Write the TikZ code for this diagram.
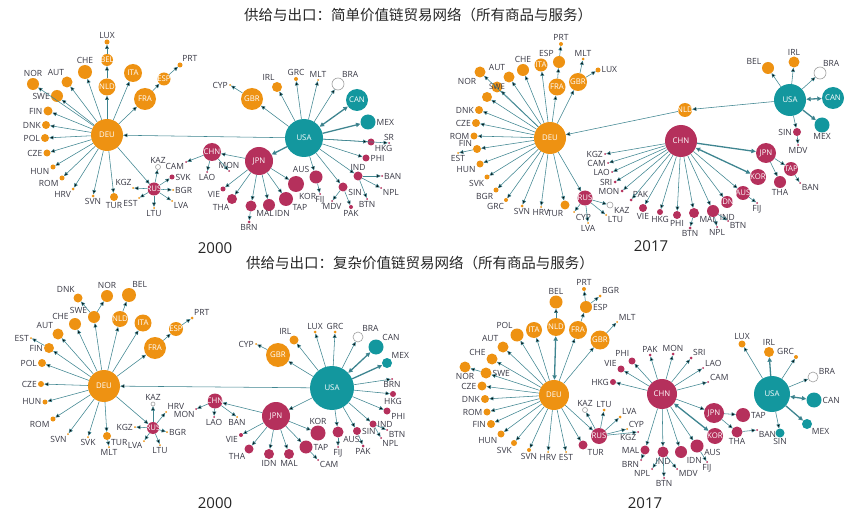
\documentclass[tikz,border=0pt]{standalone}
\usepackage{fontspec}
\setmainfont{Open Sans}
\newfontfamily\cjkfont{Noto Sans CJK SC}
\usetikzlibrary{arrows.meta}
\definecolor{corg}{HTML}{EE9212}
\definecolor{cmag}{HTML}{B5305C}
\definecolor{ctea}{HTML}{13979E}
\definecolor{cedge}{HTML}{3E8590}
\definecolor{clbl}{HTML}{3A3A46}
\newcommand{\hub}[1]{\makebox[0pt]{#1}}
\tikzset{
  cty/.style={circle, inner sep=0pt, text=white, font=\fontsize{7.8}{8}\selectfont},
  orgn/.style={cty, fill=corg, minimum size=#1},
  magn/.style={cty, fill=cmag, minimum size=#1},
  tealn/.style={cty, fill=ctea, minimum size=#1},
  hollow/.style={circle, inner sep=0pt, draw=gray!75, line width=0.6pt, fill=white, minimum size=#1},
  every label/.style={font=\fontsize{8.5}{9}\selectfont, text=clbl, inner sep=0.8pt},
  ln/.style={draw=cedge, line width=0.55pt, -{Triangle[length=4.2pt,width=3.8pt]}},
  lnt/.style={draw=cedge, line width=1.3pt, -{Triangle[length=4.5pt,width=4.2pt]}},
  lnd/.style={draw=cedge, line width=1.3pt, {Triangle[length=4.5pt,width=4.2pt]}-{Triangle[length=4.5pt,width=4.2pt]}},
  yr/.style={font=\fontsize{15}{16}\selectfont, text=black!85},
  ttl/.style={font=\cjkfont\fontsize{14.5}{15}\selectfont, text=black!85}
}

\begin{document}
\begin{tikzpicture}[x=1pt, y=-1pt]
  \fill[white] (0,0) rectangle (855,516);
  \useasboundingbox (0,0) rectangle (855,516);
  \node[ttl] (title1) at (418,15) {供给与出口：简单价值链贸易网络（所有商品与服务）};
  \node[ttl] (title2) at (420,263) {供给与出口：复杂价值链贸易网络（所有商品与服务）};

  % simple, 2000: Europe
  \node[orgn=32] (aDEU) at (107,135) {\hub{DEU}};
  \node[orgn=5, label=above:LUX] (aLUX) at (107,42) {};
  \node[orgn=12] (aBEL) at (107,60) {\hub{BEL}};
  \node[orgn=17] (aNLD) at (107,87) {\hub{NLD}};
  \node[orgn=18] (aITA) at (133,73) {\hub{ITA}};
  \node[orgn=13] (aESP) at (164,79) {\hub{ESP}};
  \node[orgn=5, label=60:PRT] (aPRT) at (180,65) {};
  \node[orgn=22] (aFRA) at (145,99) {\hub{FRA}};
  \node[orgn=14, label=above:CHE] (aCHE) at (85,72) {};
  \node[orgn=11, label=110:AUT] (aAUT) at (67,82) {};
  \node[orgn=12, label=above:NOR] (aNOR) at (33,84) {};
  \node[orgn=12, label=left:SWE] (aSWE) at (57,96) {};
  \node[orgn=9, label=left:FIN] (aFIN) at (48,111) {};
  \node[orgn=8, label=left:DNK] (aDNK) at (46,125) {};
  \node[orgn=8, label=left:POL] (aPOL) at (45,138) {};
  \node[orgn=7, label=left:CZE] (aCZE) at (47,153) {};
  \node[orgn=5, label=190:HUN] (aHUN) at (53,167) {};
  \node[orgn=5, label=200:ROM] (aROM) at (62,178) {};
  \node[orgn=3, label=230:HRV] (aHRV) at (73,189) {};
  \node[orgn=3, label=below:SVN] (aSVN) at (93,196) {};
  \node[orgn=8, label=below:TUR] (aTUR) at (114,197) {};
  \node[magn=13] (aRUS) at (154,189) {\hub{RUS}};
  \node[hollow=5, label=above:KAZ] (aKAZ) at (158,167) {};
  \node[orgn=2, label=110:KGZ] (aKGZ) at (133,188) {};
  \node[magn=2, label=210:CAM] (aCAM) at (186,162) {};
  \node[magn=5, label=right:SVK] (aSVK) at (172,177) {};
  \node[orgn=2, label=right:BGR] (aBGR) at (173,190) {};
  \node[orgn=2, label=-45:LVA] (aLVA) at (172,201) {};
  \node[orgn=2, label=below:LTU] (aLTU) at (154,208) {};
  \node[orgn=2, label=250:EST] (aEST) at (139,198) {};
  % simple, 2000: Americas and Asia
  \node[tealn=38] (aUSA) at (304,138) {\hub{USA}};
  \node[orgn=22] (aGBR) at (252,99) {\hub{GBR}};
  \node[orgn=2, label=left:CYP] (aCYP) at (230,85) {};
  \node[orgn=10, label=105:IRL] (aIRL) at (277,87) {};
  \node[orgn=4, label=above:GRC] (aGRC) at (296,79) {};
  \node[orgn=2, label=above:MLT] (aMLT) at (318,80) {};
  \node[hollow=12, label=60:BRA] (aBRA) at (338,84) {};
  \node[tealn=22] (aCAN) at (357,100) {\hub{CAN}};
  \node[tealn=15, label=right:MEX] (aMEX) at (368,122) {};
  \node[magn=2, label=above:SR] (aSRI) at (389,143) {};
  \node[magn=7, label=-40:HKG] (aHKG) at (371,142) {};
  \node[magn=7, label=right:PHI] (aPHI) at (366,158) {};
  \node[magn=9, label=above:IND] (aIND) at (358,176) {};
  \node[magn=2, label=right:BAN] (aBAN) at (382,176) {};
  \node[magn=2, label=-40:NPL] (aNPL) at (381,188) {};
  \node[magn=2, label=below:BTN] (aBTN) at (367,199) {};
  \node[magn=9, label=-20:SIN] (aSIN) at (343,187) {};
  \node[magn=2, label=below:MDV] (aMDV) at (332,201) {};
  \node[magn=4, label=below:PAK] (aPAK) at (351,207) {};
  \node[magn=13, label=150:AUS] (aAUS) at (316,177) {};
  \node[magn=2, label=below:FIJ] (aFIJ) at (320,194) {};
  \node[magn=16, label=-75:KOR] (aKOR) at (296,184) {};
  \node[magn=14, label=-40:TAP] (aTAP) at (286,199) {};
  \node[magn=28] (aJPN) at (259,161) {\hub{JPN}};
  \node[magn=12, label=-40:IDN] (aIDN) at (269,205) {};
  \node[magn=11, label=-40:MAL] (aMAL) at (251,206) {};
  \node[magn=3, label=below:BRN] (aBRN) at (249,222) {};
  \node[magn=10, label=250:THA] (aTHA) at (232,199) {};
  \node[magn=5, label=225:VIE] (aVIE) at (223,189) {};
  \node[magn=18] (aCHN) at (212,152) {\hub{CHN}};
  \node[magn=2, label=above:MON] (aMON) at (229,171) {};
  \node[magn=2, label=below:LAO] (aLAO) at (207,172) {};
  \node[yr] (ayear) at (215,248) {2000};
  % links
  \draw[ln] (aDEU) edge (aNLD) edge (aITA) edge (aFRA) edge (aCHE) edge (aAUT) edge (aNOR)
    edge (aSWE) edge (aFIN) edge (aDNK) edge (aPOL) edge (aCZE) edge (aHUN) edge (aROM)
    edge (aHRV) edge (aSVN) edge (aTUR) edge (aRUS);
  \draw[ln] (aNLD) edge (aBEL) (aBEL) edge (aLUX) (aFRA) edge (aESP) (aESP) edge (aPRT);
  \draw[ln] (aRUS) edge (aKAZ) edge (aKGZ) edge (aEST) edge (aLTU) edge (aLVA) edge (aBGR) edge (aSVK);
  \draw[ln] (aUSA) edge (aDEU) edge (aGBR) edge (aIRL) edge (aGRC) edge (aMLT) edge (aBRA)
    edge (aSRI) edge (aHKG) edge (aPHI) edge (aIND) edge (aSIN) edge (aAUS);
  \draw[lnt] (aUSA) edge (aMEX) edge (aJPN);
  \draw[lnd] (aUSA) edge (aCAN);
  \draw[ln] (aGBR) edge (aCYP) (aIND) edge (aBAN) edge (aNPL) edge (aBTN)
    (aSIN) edge (aMDV) edge (aPAK) (aAUS) edge (aFIJ);
  \draw[ln] (aJPN) edge (aCHN) edge (aVIE) edge (aTHA) edge (aMAL) edge (aIDN) edge (aTAP) edge (aKOR)
    (aMAL) edge (aBRN);
  \draw[ln] (aCHN) edge (aCAM) edge (aLAO) edge (aMON);

  % simple, 2017: Europe
  \node[orgn=32] (bDEU) at (550,138) {\hub{DEU}};
  \node[orgn=4, label=above:PRT] (bPRT) at (561,44) {};
  \node[orgn=12, label=135:ESP] (bESP) at (559,62) {};
  \node[orgn=13] (bITA) at (541,65) {\hub{ITA}};
  \node[orgn=17] (bFRA) at (557,87) {\hub{FRA}};
  \node[orgn=18] (bGBR) at (578,82) {\hub{GBR}};
  \node[orgn=3, label=above:MLT] (bMLT) at (583,59) {};
  \node[orgn=5, label=right:LUX] (bLUX) at (598,70) {};
  \node[orgn=12, label=above:CHE] (bCHE) at (523,70) {};
  \node[orgn=11, label=120:AUT] (bAUT) at (509,77) {};
  \node[orgn=11, label=240:NOR] (bNOR) at (480,72) {};
  \node[orgn=11, text=clbl] (bSWE) at (497,87) {\hub{SWE}};
  \node[orgn=10] (bunk) at (487,97) {};
  \node[orgn=8, label=left:DNK] (bDNK) at (479,110) {};
  \node[orgn=8, label=left:CZE] (bCZE) at (476,123) {};
  \node[orgn=7, label=left:ROM] (bROM) at (474,136) {};
  \node[orgn=8, label=165:FIN] (bFIN) at (477,149) {};
  \node[orgn=2, label=below:EST] (bEST) at (458,153) {};
  \node[orgn=7, label=200:HUN] (bHUN) at (480,164) {};
  \node[orgn=5, label=225:SVK] (bSVK) at (487,177) {};
  \node[orgn=5, label=225:BGR] (bBGR) at (496,190) {};
  \node[orgn=4, label=-120:GRC] (bGRC) at (506,200) {};
  \node[orgn=3, label=below:SVN] (bSVN) at (522,206) {};
  \node[orgn=2, label=below:HRV] (bHRV) at (541,207) {};
  \node[orgn=9, label=-100:TUR] (bTUR) at (565,205) {};
  \node[magn=15] (bRUS) at (585,198) {\hub{RUS}};
  \node[orgn=2, label=-45:CYP] (bCYP) at (574,212) {};
  \node[orgn=2, label=below:LVA] (bLVA) at (588,223) {};
  \node[orgn=2, label=-40:LTU] (bLTU) at (606,215) {};
  \node[hollow=6, label=-20:KAZ] (bKAZ) at (610,205) {};
  % simple, 2017: Asia
  \node[magn=32] (bCHN) at (681,141) {\hub{CHN}};
  \node[magn=2, label=left:KGZ] (bKGZ) at (605,154) {};
  \node[magn=2, label=left:CAM] (bCAM) at (608,163) {};
  \node[magn=2, label=left:LAO] (bLAO) at (612,172) {};
  \node[magn=3, label=left:SRI] (bSRI) at (615,182) {};
  \node[magn=3, label=left:MON] (bMON) at (622,191) {};
  \node[magn=3, label=60:PAK] (bPAK) at (631,200) {};
  \node[magn=8, label=below:VIE] (bVIE) at (643,208) {};
  \node[magn=6, label=below:HKG] (bHKG) at (660,212) {};
  \node[magn=8, label=below:PHI] (bPHI) at (677,215) {};
  \node[magn=10, label=-30:MAL] (bMAL) at (694,213) {};
  \node[magn=3, label=below:BTN] (bBTN) at (690,228) {};
  \node[magn=12, label=-20:IND] (bIND) at (713,211) {};
  \node[magn=2, label=below:NPL] (bNPL) at (717,227) {};
  \node[magn=2, label=-40:BTN] (bBTNb) at (728,221) {};
  \node[magn=12] (bIDN) at (727,202) {\hub{IDN}};
  \node[magn=14] (bAUS) at (743,193) {\hub{AUS}};
  \node[magn=2, label=below:FIJ] (bFIJ) at (757,203) {};
  \node[magn=16] (bKOR) at (758,177) {\hub{KOR}};
  \node[magn=20] (bJPN) at (766,153) {\hub{JPN}};
  \node[magn=14] (bTAP) at (791,169) {\hub{TAP}};
  \node[magn=12, label=below:THA] (bTHA) at (780,182) {};
  \node[magn=2, label=-40:BAN] (bBAN) at (800,183) {};
  % simple, 2017: Americas
  \node[tealn=32] (bUSA) at (790,100) {\hub{USA}};
  \node[orgn=14] (bNLD) at (685,110) {\hub{NLD}};
  \node[orgn=12, label=160:BEL] (bBEL) at (768,68) {};
  \node[orgn=11, label=above:IRL] (bIRL) at (794,62) {};
  \node[hollow=12, label=70:BRA] (bBRA) at (820,73) {};
  \node[tealn=22] (bCAN) at (833,98) {\hub{CAN}};
  \node[tealn=15, label=below:MEX] (bMEX) at (822,125) {};
  \node[magn=8, label=left:SIN] (bSIN) at (797,132) {};
  \node[magn=2, label=below:MDV] (bMDV) at (798,145) {};
  \node[yr] (byear) at (651,246) {2017};
  % links
  \draw[ln] (bDEU) edge (bITA) edge (bFRA) edge (bGBR) edge (bCHE) edge (bAUT) edge (bNOR)
    edge (bSWE) edge (bunk) edge (bDNK) edge (bCZE) edge (bROM) edge (bFIN) edge (bHUN)
    edge (bSVK) edge (bBGR) edge (bGRC) edge (bSVN) edge (bHRV) edge (bTUR) edge (bRUS);
  \draw[ln] (bFRA) edge (bESP) (bESP) edge (bPRT) (bGBR) edge (bMLT) edge (bLUX) (bFIN) edge (bEST);
  \draw[ln] (bRUS) edge (bCYP) edge (bLVA) edge (bLTU) edge (bKAZ);
  \draw[ln] (bCHN) edge (bKGZ) edge (bCAM) edge (bLAO) edge (bSRI) edge (bMON) edge (bPAK)
    edge (bVIE) edge (bHKG) edge (bPHI) edge (bMAL) edge (bIND) edge (bIDN) edge (bAUS);
  \draw[lnt] (bCHN) edge (bJPN);
  \draw[lnd] (bCHN) edge (bKOR);
  \draw[ln] (bMAL) edge (bBTN) (bIND) edge (bNPL) edge (bBTNb) (bAUS) edge (bFIJ)
    (bJPN) edge (bTAP) edge (bTHA) (bTAP) edge (bBAN);
  \draw[ln] (bUSA) edge (bNLD) edge (bBEL) edge (bIRL) edge (bBRA) edge (bSIN)
    (bNLD) edge (bDEU) (bSIN) edge (bMDV);
  \draw[lnt] (bUSA) edge (bMEX);
  \draw[lnd] (bUSA) edge (bCAN);

  % complex, 2000: Europe
  \node[orgn=32] (cDEU) at (104,386) {\hub{DEU}};
  \node[orgn=9, label=120:DNK] (cDNK) at (78,298) {};
  \node[orgn=12, label=above:NOR] (cNOR) at (107,296) {};
  \node[orgn=14, label=70:BEL] (cBEL) at (129,295) {};
  \node[orgn=12, label=160:SWE] (cSWE) at (94,317) {};
  \node[orgn=16] (cNLD) at (120,319) {\hub{NLD}};
  \node[orgn=17] (cITA) at (143,323) {\hub{ITA}};
  \node[orgn=14] (cESP) at (176,329) {\hub{ESP}};
  \node[orgn=3, label=45:PRT] (cPRT) at (192,318) {};
  \node[orgn=22] (cFRA) at (155,348) {\hub{FRA}};
  \node[orgn=12, label=150:CHE] (cCHE) at (75,324) {};
  \node[orgn=11, label=135:AUT] (cAUT) at (58,334) {};
  \node[orgn=2, label=left:EST] (cEST) at (31,338) {};
  \node[orgn=10, label=left:FIN] (cFIN) at (49,348) {};
  \node[orgn=8, label=left:POL] (cPOL) at (42,363) {};
  \node[orgn=6, label=left:CZE] (cCZE) at (41,384) {};
  \node[orgn=5, label=left:HUN] (cHUN) at (45,402) {};
  \node[orgn=5, label=200:ROM] (cROM) at (53,419) {};
  \node[orgn=2, label=250:SVN] (cSVN) at (68,434) {};
  \node[orgn=2, label=below:SVK] (cSVK) at (88,437) {};
  \node[orgn=8, label=-40:TUR] (cTUR) at (107,436) {};
  \node[orgn=2, label=below:MLT] (cMLT) at (109,447) {};
  \node[magn=12] (cRUS) at (153,428) {\hub{RUS}};
  \node[hollow=4, label=above:KAZ] (cKAZ) at (153,404) {};
  \node[orgn=2, label=60:HRV] (cHRV) at (166,412) {};
  \node[orgn=2, label=right:BGR] (cBGR) at (167,432) {};
  \node[orgn=2, label=below:LTU] (cLTU) at (160,445) {};
  \node[orgn=2, label=225:LVA] (cLVA) at (144,441) {};
  \node[orgn=2, label=left:KGZ] (cKGZ) at (135,427) {};
  % complex, 2000: Americas and Asia
  \node[tealn=44] (cUSA) at (332,388) {\hub{USA}};
  \node[orgn=24] (cGBR) at (278,355) {\hub{GBR}};
  \node[orgn=2, label=left:CYP] (cCYP) at (256,344) {};
  \node[orgn=9, label=110:IRL] (cIRL) at (294,340) {};
  \node[orgn=3, label=above:LUX] (cLUX) at (315,332) {};
  \node[orgn=3, label=above:GRC] (cGRC) at (335,332) {};
  \node[hollow=10, label=50:BRA] (cBRA) at (358,337) {};
  \node[tealn=15, label=45:CAN] (cCAN) at (376,347) {};
  \node[tealn=10, label=45:MEX] (cMEX) at (387,363) {};
  \node[magn=2, label=below:BRN] (cBRN) at (392,379) {};
  \node[magn=6, label=below:HKG] (cHKG) at (393,394) {};
  \node[magn=7, label=-20:PHI] (cPHI) at (387,411) {};
  \node[magn=7, label=right:IND] (cIND) at (373,424) {};
  \node[magn=2, label=-40:BTN] (cBTN) at (387,430) {};
  \node[magn=2, label=-70:NPL] (cNPL) at (381,438) {};
  \node[magn=8, label=right:SIN] (cSIN) at (357,431) {};
  \node[magn=3, label=below:PAK] (cPAK) at (363,446) {};
  \node[magn=11, label=-40:AUS] (cAUS) at (338,432) {};
  \node[magn=2, label=below:FIJ] (cFIJ) at (338,447) {};
  \node[magn=15, label=above:KOR] (cKOR) at (318,433) {};
  \node[magn=13, label=right:TAP] (cTAP) at (306,447) {};
  \node[magn=2, label=-40:CAM] (cCAM) at (318,460) {};
  \node[magn=28] (cJPN) at (276,416) {\hub{JPN}};
  \node[magn=10, label=below:MAL] (cMAL) at (289,454) {};
  \node[magn=10, label=below:IDN] (cIDN) at (269,454) {};
  \node[magn=9, label=235:THA] (cTHA) at (249,449) {};
  \node[magn=4, label=200:VIE] (cVIE) at (241,435) {};
  \node[magn=15] (cCHN) at (215,401) {\hub{CHN}};
  \node[magn=2, label=below:LAO] (cLAO) at (214,417) {};
  \node[orgn=2, label=below:BAN] (cBAN) at (237,417) {};
  \node[magn=2, label=250:MON] (cMON) at (196,409) {};
  \node[yr] (cyear) at (215,503) {2000};
  % links
  \draw[ln] (cDEU) edge (cSWE) edge (cNLD) edge (cITA) edge (cFRA) edge (cCHE) edge (cAUT)
    edge (cFIN) edge (cPOL) edge (cCZE) edge (cHUN) edge (cROM) edge (cSVN) edge (cSVK)
    edge (cTUR) edge (cRUS);
  \draw[ln] (cSWE) edge (cDNK) edge (cNOR) (cNLD) edge (cBEL) (cFRA) edge (cESP) (cESP) edge (cPRT)
    (cFIN) edge (cEST) (cTUR) edge (cMLT);
  \draw[ln] (cRUS) edge (cKAZ) edge (cHRV) edge (cBGR) edge (cLTU) edge (cLVA) edge (cKGZ);
  \draw[ln] (cUSA) edge (cDEU) edge (cGBR) edge (cIRL) edge (cLUX) edge (cGRC) edge (cBRA)
    edge (cBRN) edge (cHKG) edge (cPHI) edge (cIND) edge (cSIN) edge (cAUS) edge (cJPN);
  \draw[lnt] (cUSA) edge (cMEX);
  \draw[lnd] (cUSA) edge (cCAN);
  \draw[ln] (cGBR) edge (cCYP) (cIND) edge (cBTN) edge (cNPL) (cSIN) edge (cPAK) (cAUS) edge (cFIJ);
  \draw[ln] (cJPN) edge (cCHN) edge (cVIE) edge (cTHA) edge (cIDN) edge (cMAL) edge (cTAP) edge (cKOR)
    (cTAP) edge (cCAM);
  \draw[ln] (cCHN) edge (cLAO) edge (cBAN) edge (cMON);

  % complex, 2017: Europe
  \node[orgn=30] (dDEU) at (554,395) {\hub{DEU}};
  \node[orgn=13, label=above:BEL] (dBEL) at (556,302) {};
  \node[orgn=18] (dNLD) at (556,327) {\hub{NLD}};
  \node[orgn=4, label=above:PRT] (dPRT) at (584,289) {};
  \node[orgn=3, label=45:BGR] (dBGR) at (600,296) {};
  \node[orgn=12, label=right:ESP] (dESP) at (586,307) {};
  \node[orgn=18] (dFRA) at (578,330) {\hub{FRA}};
  \node[orgn=16] (dITA) at (534,330) {\hub{ITA}};
  \node[orgn=19] (dGBR) at (600,340) {\hub{GBR}};
  \node[orgn=2, label=45:MLT] (dMLT) at (617,322) {};
  \node[orgn=13, label=120:POL] (dPOL) at (517,335) {};
  \node[orgn=11, label=130:AUT] (dAUT) at (503,347) {};
  \node[orgn=11, label=160:CHE] (dCHE) at (492,359) {};
  \node[orgn=11, label=below:NOR] (dNOR) at (465,367) {};
  \node[orgn=11, label=right:SWE] (dSWE) at (486,373) {};
  \node[orgn=9, label=left:CZE] (dCZE) at (482,386) {};
  \node[orgn=8, label=left:DNK] (dDNK) at (485,399) {};
  \node[orgn=7, label=left:ROM] (dROM) at (487,412) {};
  \node[orgn=8, label=left:FIN] (dFIN) at (491,424) {};
  \node[orgn=7, label=220:HUN] (dHUN) at (501,434) {};
  \node[orgn=6, label=250:SVK] (dSVK) at (514,443) {};
  \node[orgn=4, label=below:SVN] (dSVN) at (529,450) {};
  \node[orgn=2, label=below:HRV] (dHRV) at (548,452) {};
  \node[orgn=2, label=below:EST] (dEST) at (566,452) {};
  \node[magn=9, label=-40:TUR] (dTUR) at (583,445) {};
  \node[magn=16] (dRUS) at (599,436) {\hub{RUS}};
  \node[hollow=5, label=above:KAZ] (dKAZ) at (585,410) {};
  \node[orgn=3, label=above:LTU] (dLTU) at (604,410) {};
  \node[orgn=3, label=45:LVA] (dLVA) at (620,417) {};
  \node[orgn=2, label=45:CYP] (dCYP) at (627,429) {};
  % complex, 2017: Asia
  \node[magn=30] (dCHN) at (662,394) {\hub{CHN}};
  \node[magn=2, label=225:KGZ] (dKGZ) at (638,432) {};
  \node[magn=9, label=left:MAL] (dMAL) at (645,450) {};
  \node[magn=2, label=225:BRN] (dBRN) at (641,460) {};
  \node[magn=11, label=below:IND] (dIND) at (663,452) {};
  \node[magn=2, label=225:NPL] (dNPL) at (652,469) {};
  \node[magn=2, label=below:BTN] (dBTN) at (664,478) {};
  \node[magn=2, label=-45:MDV] (dMDV) at (677,469) {};
  \node[magn=12, label=-40:IDN] (dIDN) at (681,452) {};
  \node[magn=13, label=-20:AUS] (dAUS) at (697,446) {};
  \node[magn=2, label=below:FIJ] (dFIJ) at (707,462) {};
  \node[magn=16] (dKOR) at (715,436) {\hub{KOR}};
  \node[magn=20] (dJPN) at (714,413) {\hub{JPN}};
  \node[magn=14, label=right:TAP] (dTAP) at (743,415) {};
  \node[magn=11, label=below:THA] (dTHA) at (737,432) {};
  \node[magn=2, label=-40:BAN] (dBAN) at (757,430) {};
  \node[magn=6, label=left:HKG] (dHKG) at (613,382) {};
  \node[magn=7, label=160:VIE] (dVIE) at (621,369) {};
  \node[magn=7, label=120:PHI] (dPHI) at (632,361) {};
  \node[magn=3, label=above:PAK] (dPAK) at (650,355) {};
  \node[magn=3, label=above:MON] (dMON) at (673,354) {};
  \node[magn=3, label=45:SRI] (dSRI) at (691,358) {};
  \node[magn=2, label=20:LAO] (dLAO) at (703,368) {};
  \node[magn=2, label=20:CAM] (dCAM) at (708,382) {};
  % complex, 2017: Americas
  \node[tealn=36] (dUSA) at (772,394) {\hub{USA}};
  \node[orgn=7, label=above:LUX] (dLUX) at (742,344) {};
  \node[orgn=10, label=above:IRL] (dIRL) at (769,352) {};
  \node[orgn=4, label=120:GRC] (dGRC) at (796,357) {};
  \node[hollow=10, label=20:BRA] (dBRA) at (813,377) {};
  \node[tealn=15, label=right:CAN] (dCAN) at (814,400) {};
  \node[tealn=10, label=-40:MEX] (dMEX) at (807,424) {};
  \node[tealn=9, label=below:SIN] (dSIN) at (780,433) {};
  \node[yr] (dyear) at (645,503) {2017};
  % links
  \draw[lnd] (dDEU) edge (dNLD);
  \draw[ln] (dDEU) edge (dITA) edge (dFRA) edge (dGBR) edge (dPOL) edge (dAUT) edge (dCHE)
    edge (dSWE) edge (dCZE) edge (dDNK) edge (dROM) edge (dFIN) edge (dHUN) edge (dSVK)
    edge (dSVN) edge (dHRV) edge (dEST) edge (dTUR) edge (dRUS);
  \draw[ln] (dNLD) edge (dBEL) (dFRA) edge (dESP) (dESP) edge (dPRT) edge (dBGR)
    (dGBR) edge (dMLT) (dSWE) edge (dNOR);
  \draw[ln] (dRUS) edge (dKAZ) edge (dLTU) edge (dLVA) edge (dCYP) edge (dKGZ);
  \draw[ln] (dCHN) edge (dHKG) edge (dVIE) edge (dPHI) edge (dPAK) edge (dMON) edge (dSRI)
    edge (dLAO) edge (dCAM) edge (dMAL) edge (dIND) edge (dIDN) edge (dAUS) edge (dJPN);
  \draw[lnd] (dCHN) edge (dKOR);
  \draw[ln] (dMAL) edge (dBRN) (dIND) edge (dNPL) edge (dBTN) edge (dMDV) (dAUS) edge (dFIJ)
    (dJPN) edge (dTAP) edge (dTHA) (dTHA) edge (dBAN);
  \draw[ln] (dUSA) edge (dLUX) edge (dGRC) edge (dBRA) edge (dSIN);
  \draw[lnt] (dUSA) edge (dIRL) edge (dMEX);
  \draw[lnd] (dUSA) edge (dCAN);
\end{tikzpicture}
\end{document}
